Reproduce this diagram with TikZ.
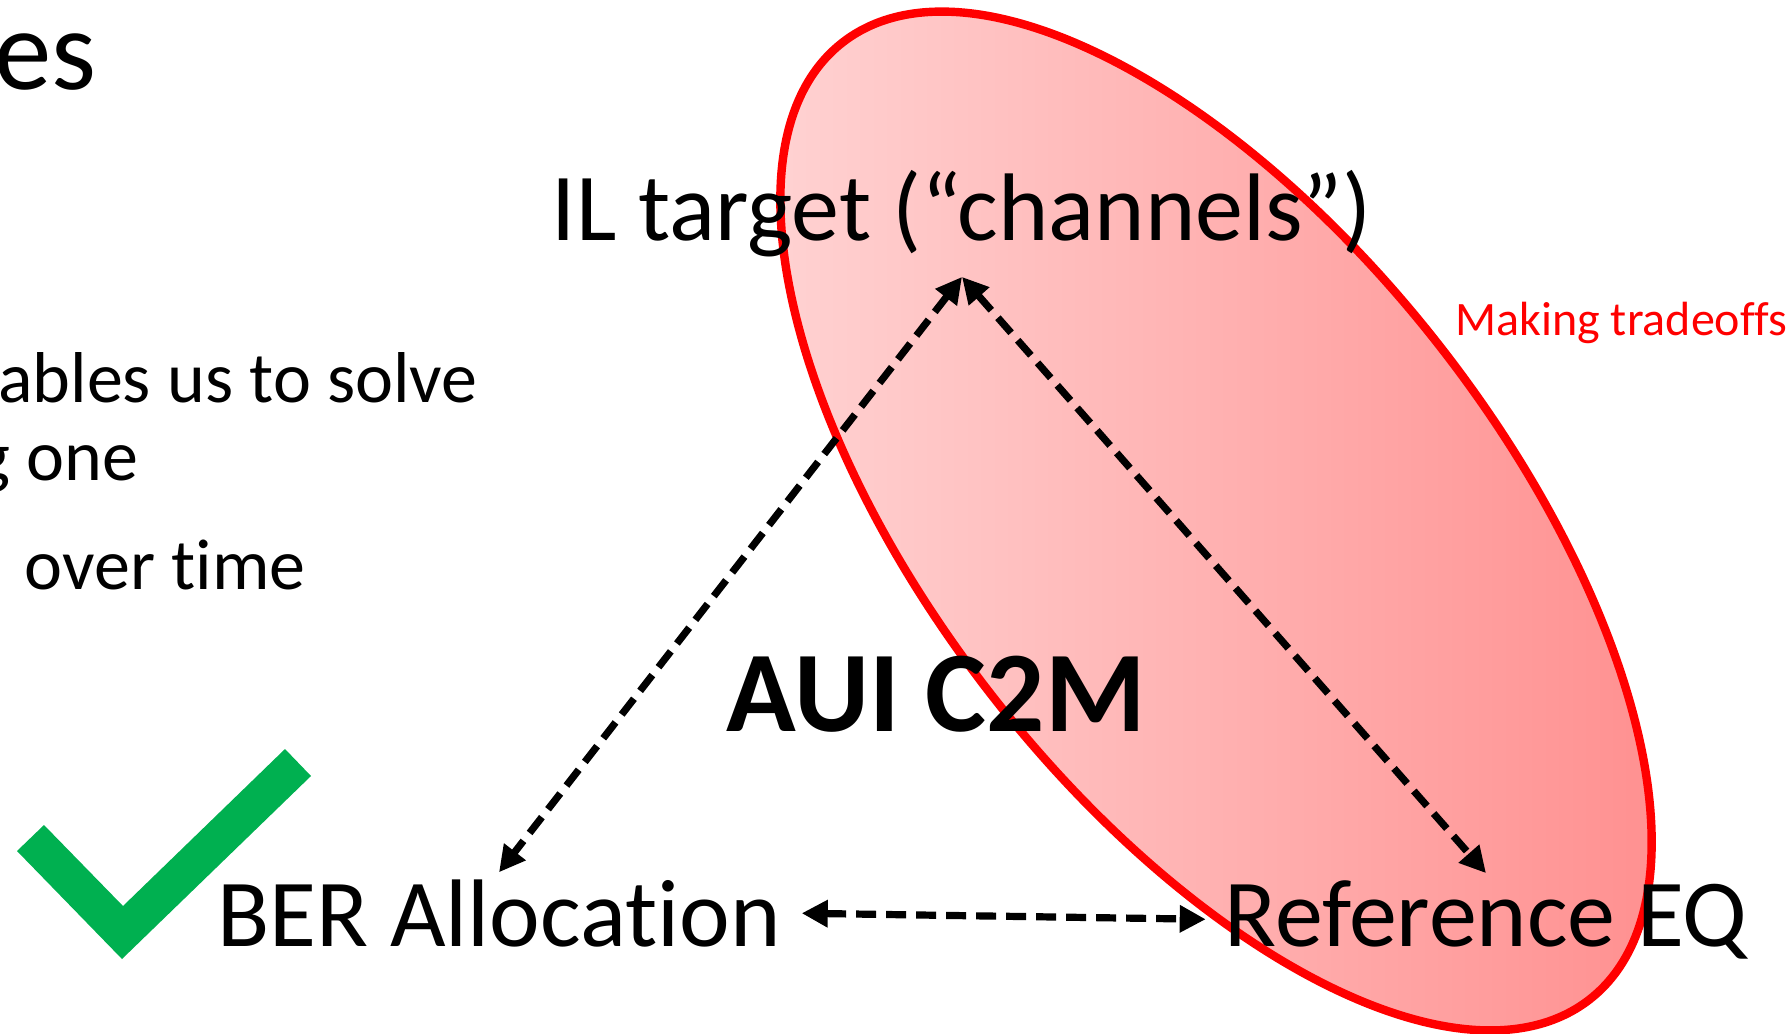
\documentclass[tikz,border=0pt]{standalone}
\usepackage{fontspec}
\setmainfont{Carlito}[Ligatures=NoCommon]
\usetikzlibrary{arrows.meta}
\definecolor{tickgreen}{RGB}{0,176,80}
\definecolor{blobleft}{RGB}{255,214,214}
\definecolor{blobright}{RGB}{255,140,140}

\tikzset{
  big text/.style={font=\fontsize{48}{58}\selectfont, anchor=base},
  side text/.style={font=\fontsize{36}{43}\selectfont, anchor=base east, inner sep=0pt},
  tradeoff/.style={line width=3.6pt, dash pattern=on 10pt off 5pt,
    {Triangle[length=13pt,width=13pt]}-{Triangle[length=13pt,width=13pt]}}
}

\begin{document}
\begin{tikzpicture}[x=0.5pt,y=-0.5pt]
\useasboundingbox (0,0) rectangle (1792,1033);

%Shape: Ellipse
\begin{scope}[shift={(1216,521)},rotate=-52]
\shade[draw=red, line width=4.2pt, left color=blobleft, right color=blobright] (0,0) ellipse [x radius=607, y radius=284];
\end{scope}

%Shape: Tick
\fill[tickgreen] (17,851) -- (44,825) -- (123,906) -- (285,749) -- (311,776) -- (122,959) -- cycle;

% Text Node
\node[side text, font=\fontsize{57.5}{69}\selectfont] (es) at (97,89) {es};
% Text Node
\node[side text] (solve) at (478,402) {ables us to solve};
% Text Node
\node[side text] (one) at (139,480) {g one};
% Text Node
\node[side text] (time) at (306,589) {over time};

% Text Node
\node[big text, inner sep=10pt] (il) at (962,240) {IL target (“channels”)};
% Text Node
\node[big text] (ber) at (499,946) {BER Allocation};
% Text Node
\node[big text] (ref) at (1486,946) {Reference EQ};
% Text Node
\node[anchor=base, font=\fontsize{57.5}{69}\selectfont\bfseries] (aui) at (936,731) {AUI C2M};
% Text Node
\node[anchor=base west, inner sep=0pt, text=red, font=\fontsize{24}{29}\selectfont] (trade) at (1455,335) {Making tradeoffs};

%Straight Lines
\draw[tradeoff] (il.south) -- (ber.north);
\draw[tradeoff] (il.south) -- (ref.north);
\draw[tradeoff, shorten <=7pt, shorten >=6pt] (ber.east) -- (ref.west);

\end{tikzpicture}
\end{document}
